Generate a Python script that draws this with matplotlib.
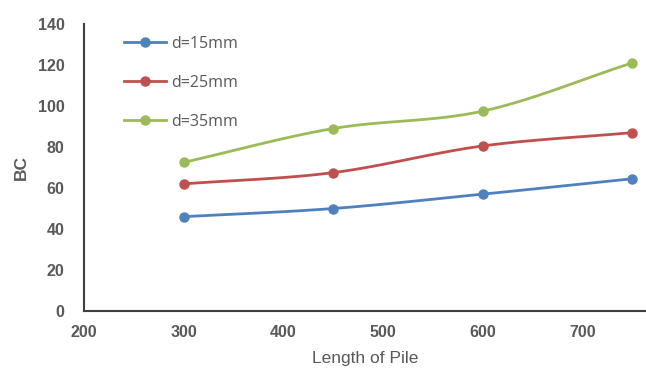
import matplotlib
matplotlib.use("Agg")
import matplotlib.pyplot as plt
import numpy as np

length = [300, 450, 600, 750]
bc_15 = [46, 50, 57, 64.5]
bc_25 = [62, 67.5, 80.5, 87]
bc_35 = [72.5, 89, 97.5, 121]
labels = ["d=15mm", "d=25mm", "d=35mm"]
colors = ["#4F81BD", "#C0504D", "#9BBB59"]


def smooth(x, y, n=40, t=0.5):
    # Catmull-Rom style curve through the points, like a spreadsheet "smoothed line"
    x = np.asarray(x, float)
    y = np.asarray(y, float)
    px = np.concatenate([[2 * x[0] - x[1]], x, [2 * x[-1] - x[-2]]])
    py = np.concatenate([[2 * y[0] - y[1]], y, [2 * y[-1] - y[-2]]])
    xs, ys = [], []
    for i in range(1, len(px) - 2):
        p0, p1, p2, p3 = [np.array([px[j], py[j]]) for j in range(i - 1, i + 3)]
        c1 = p1 + (p2 - p0) * t / 3
        c2 = p2 - (p3 - p1) * t / 3
        s = np.linspace(0, 1, n)[:, None]
        b = (1 - s) ** 3 * p1 + 3 * (1 - s) ** 2 * s * c1 + 3 * (1 - s) * s ** 2 * c2 + s ** 3 * p2
        xs.append(b[:, 0])
        ys.append(b[:, 1])
    return np.concatenate(xs), np.concatenate(ys)


fig = plt.figure(figsize=(6.46, 3.74), dpi=100)
ax = fig.add_axes([84 / 646, 63 / 374, 1 - 84 / 646, 287 / 374])

for vals, lab, col in zip([bc_15, bc_25, bc_35], labels, colors):
    sx, sy = smooth(length, vals)
    ax.plot(sx, sy, color=col, lw=2, solid_capstyle="round")
    ax.plot(length, vals, "o", color=col, ms=6.5)
    # legend proxy
    ax.plot([], [], color=col, lw=2, marker="o", ms=6.5, label=lab)

ax.set_xlim(200, 764)
ax.set_ylim(0, 140)
ax.set_xticks([200, 300, 400, 500, 600, 700])
ax.set_yticks(range(0, 141, 20))

for lbl in ax.get_xticklabels() + ax.get_yticklabels():
    lbl.set_family(["Liberation Sans", "DejaVu Sans"])
    lbl.set_weight("bold")
    lbl.set_size(11.5)
    lbl.set_color("#595959")
ax.tick_params(length=0)
ax.tick_params(axis="x", pad=10)
ax.tick_params(axis="y", pad=14)

for side in ["top", "right"]:
    ax.spines[side].set_visible(False)
for side in ["left", "bottom"]:
    ax.spines[side].set_color("#404040")
    ax.spines[side].set_linewidth(1.5)

ax.set_xlabel("Length of Pile", family=["Liberation Sans", "DejaVu Sans"],
              size=12.5, color="#595959", labelpad=8)
ax.set_ylabel("BC", family=["Liberation Sans", "DejaVu Sans"], weight="bold",
              size=12.5, color="#595959", labelpad=6)

h, l = ax.get_legend_handles_labels()
leg = ax.legend(h, l, loc="upper left", bbox_to_anchor=(0.046, 1.01), frameon=False,
                handlelength=2.63, labelspacing=1.45, handletextpad=0.3,
                prop=dict(family="Open Sans", size=11.5))
for txt in leg.get_texts():
    txt.set_color("#595959")

fig.savefig("out.png", dpi=100)
